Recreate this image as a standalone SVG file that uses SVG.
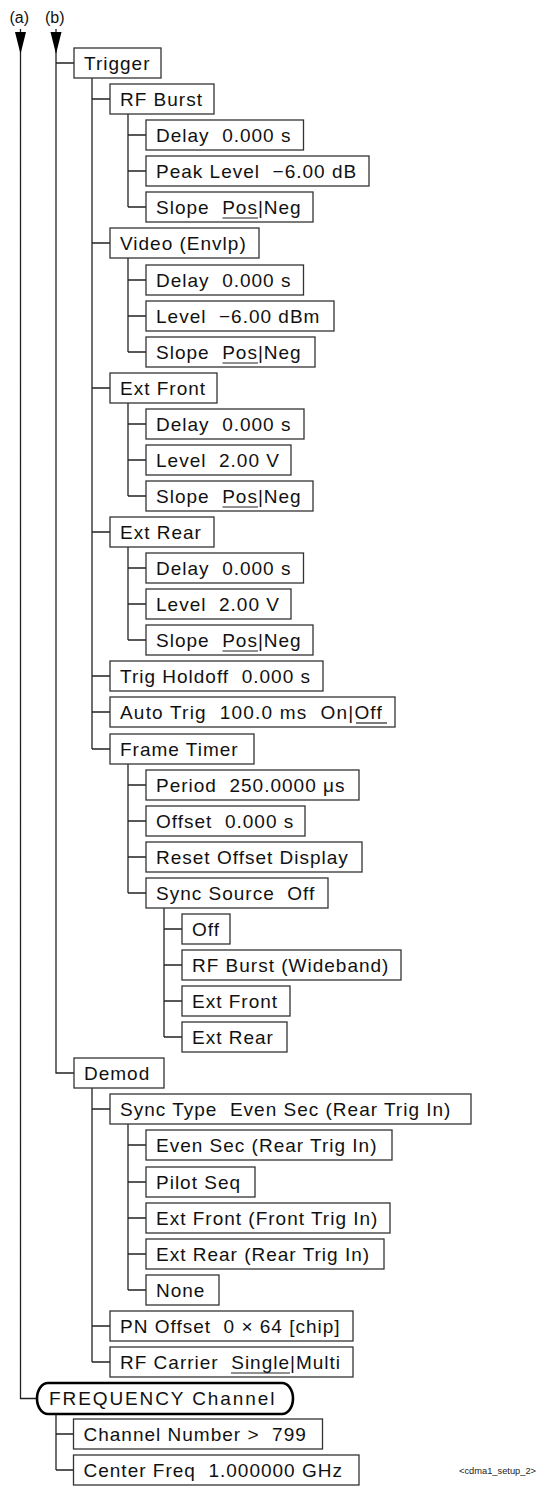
<svg xmlns="http://www.w3.org/2000/svg" width="539" height="1486" viewBox="0 0 539 1486" xml:space="preserve">
  <style>
    .box { fill: #fff; stroke: #333; stroke-width: 1.3; }
    .rnd { fill: #fff; stroke: #000; stroke-width: 2.6; }
    .t { font-family: "Liberation Sans", Arial, sans-serif; font-size: 19px; letter-spacing: 1px; fill: #111; white-space: pre; }
    .wide { letter-spacing: 1.9px; }
    .lbl { font-family: "Liberation Sans", Arial, sans-serif; font-size: 16px; fill: #111; text-anchor: middle; }
    .cap { font-family: "Liberation Sans", Arial, sans-serif; font-size: 9.3px; fill: #222; }
    .ln { fill: none; stroke: #222; stroke-width: 1.3; }
    .ul { stroke: #222; stroke-width: 1.2; }
    .head { fill: #000; }
  </style>

  <!-- column labels and entry arrows -->
  <text class="lbl" x="19.2" y="23">(a)</text>
  <text class="lbl" x="54.7" y="23">(b)</text>

  <g id="connectors">
    <path class="ln" d="M20.5 29 V1398.5 H37
      M56 29 V1073 H74 M56 63 H74
      M92 78 V749 M92 99 H110 M92 243 H110 M92 388 H110 M92 532 H110 M92 676 H110 M92 712 H110 M92 749 H110
      M128 114 V207 M128 135 H146 M128 171 H146 M128 207 H146
      M128 258 V352 M128 280 H146 M128 316 H146 M128 352 H146
      M128 403 V496 M128 424 H146 M128 460 H146 M128 496 H146
      M128 547 V640 M128 568 H146 M128 604 H146 M128 640 H146
      M128 764 V893 M128 785 H146 M128 821 H146 M128 857 H146 M128 893 H146
      M164 908 V1037 M164 929 H182 M164 965 H182 M164 1001 H182 M164 1037 H182
      M92 1088 V1362 M92 1109 H110 M92 1326 H110 M92 1362 H110
      M128 1124 V1290 M128 1145 H146 M128 1182 H146 M128 1218 H146 M128 1254 H146 M128 1290 H146
      M56 1414 V1470 M56 1434 H73.5 M56 1470 H73.5"/>
    <polygon class="head" points="15,32 26,32 20.5,54"/>
    <polygon class="head" points="50.5,32 61.5,32 56,54"/>
  </g>

  <!-- Trigger branch -->
  <g id="n-trigger" transform="translate(74,48)"><rect class="box" width="87" height="30"/><text class="t" x="10" y="21.5">Trigger</text></g>

  <g id="n-rfburst" transform="translate(110,84)"><rect class="box" width="104" height="30"/><text class="t" x="10" y="21.5">RF Burst</text></g>
  <g id="n-rfburst-delay" transform="translate(146,120)"><rect class="box" width="157.5" height="30"/><text class="t" x="10" y="21.5">Delay  0.000 s</text></g>
  <g id="n-rfburst-level" transform="translate(146,156)"><rect class="box" width="223" height="30"/><text class="t" x="10" y="21.5">Peak Level  −6.00 dB</text></g>
  <g id="n-rfburst-slope" transform="translate(146,192)"><rect class="box" width="167" height="30"/><text class="t" x="10" y="21.5">Slope  Pos|Neg</text><line class="ul" x1="76.5" y1="26" x2="112" y2="26"/></g>

  <g id="n-video" transform="translate(110,228)"><rect class="box" width="149" height="30"/><text class="t" x="10" y="21.5">Video (Envlp)</text></g>
  <g id="n-video-delay" transform="translate(146,265)"><rect class="box" width="157.5" height="30"/><text class="t" x="10" y="21.5">Delay  0.000 s</text></g>
  <g id="n-video-level" transform="translate(146,301)"><rect class="box" width="188" height="30"/><text class="t" x="10" y="21.5">Level  −6.00 dBm</text></g>
  <g id="n-video-slope" transform="translate(146,337)"><rect class="box" width="169" height="30"/><text class="t" x="10" y="21.5">Slope  Pos|Neg</text><line class="ul" x1="76.5" y1="26" x2="112" y2="26"/></g>

  <g id="n-extfront" transform="translate(110,373)"><rect class="box" width="107" height="30"/><text class="t" x="10" y="21.5">Ext Front</text></g>
  <g id="n-extfront-delay" transform="translate(146,409)"><rect class="box" width="158" height="30"/><text class="t" x="10" y="21.5">Delay  0.000 s</text></g>
  <g id="n-extfront-level" transform="translate(146,445)"><rect class="box" width="145" height="30"/><text class="t" x="10" y="21.5">Level  2.00 V</text></g>
  <g id="n-extfront-slope" transform="translate(146,481)"><rect class="box" width="167" height="30"/><text class="t" x="10" y="21.5">Slope  Pos|Neg</text><line class="ul" x1="76.5" y1="26" x2="112" y2="26"/></g>

  <g id="n-extrear" transform="translate(110,517)"><rect class="box" width="104" height="30"/><text class="t" x="10" y="21.5">Ext Rear</text></g>
  <g id="n-extrear-delay" transform="translate(146,553)"><rect class="box" width="157.5" height="30"/><text class="t" x="10" y="21.5">Delay  0.000 s</text></g>
  <g id="n-extrear-level" transform="translate(146,589)"><rect class="box" width="145" height="30"/><text class="t" x="10" y="21.5">Level  2.00 V</text></g>
  <g id="n-extrear-slope" transform="translate(146,625)"><rect class="box" width="167" height="30"/><text class="t" x="10" y="21.5">Slope  Pos|Neg</text><line class="ul" x1="76.5" y1="26" x2="112" y2="26"/></g>

  <g id="n-holdoff" transform="translate(110,661)"><rect class="box" width="213" height="30"/><text class="t" x="10" y="21.5">Trig Holdoff  0.000 s</text></g>
  <g id="n-autotrig" transform="translate(110,697)"><rect class="box" width="285" height="30"/><text class="t" x="10" y="21.5" style="letter-spacing:1.2px">Auto Trig  100.0 ms  On|Off</text><line class="ul" x1="246" y1="26" x2="277" y2="26"/></g>

  <g id="n-frametimer" transform="translate(110,734)"><rect class="box" width="144" height="30"/><text class="t" x="10" y="21.5">Frame Timer</text></g>
  <g id="n-period" transform="translate(146,770)"><rect class="box" width="213" height="30"/><text class="t" x="10" y="21.5">Period  250.0000 μs</text></g>
  <g id="n-offset" transform="translate(146,806)"><rect class="box" width="159" height="30"/><text class="t" x="10" y="21.5">Offset  0.000 s</text></g>
  <g id="n-reset" transform="translate(146,842)"><rect class="box" width="216" height="30"/><text class="t" x="10" y="21.5">Reset Offset Display</text></g>
  <g id="n-syncsource" transform="translate(146,878)"><rect class="box" width="182" height="30"/><text class="t" x="10" y="21.5">Sync Source  Off</text></g>
  <g id="n-ss-off" transform="translate(182,914)"><rect class="box" width="48" height="30"/><text class="t" x="10" y="21.5">Off</text></g>
  <g id="n-ss-rfburst" transform="translate(182,950)"><rect class="box" width="219" height="30"/><text class="t" x="10" y="21.5">RF Burst (Wideband)</text></g>
  <g id="n-ss-extfront" transform="translate(182,986)"><rect class="box" width="108" height="30"/><text class="t" x="10" y="21.5">Ext Front</text></g>
  <g id="n-ss-extrear" transform="translate(182,1022)"><rect class="box" width="105" height="30"/><text class="t" x="10" y="21.5">Ext Rear</text></g>

  <!-- Demod branch -->
  <g id="n-demod" transform="translate(74,1058)"><rect class="box" width="90" height="30"/><text class="t" x="10" y="21.5">Demod</text></g>
  <g id="n-synctype" transform="translate(110,1094)"><rect class="box" width="361" height="30"/><text class="t" x="10" y="21.5">Sync Type  Even Sec (Rear Trig In)</text></g>
  <g id="n-st-evensec" transform="translate(146,1130)"><rect class="box" width="246" height="30"/><text class="t" x="10" y="21.5">Even Sec (Rear Trig In)</text></g>
  <g id="n-st-pilot" transform="translate(146,1167)"><rect class="box" width="109" height="30"/><text class="t" x="10" y="21.5">Pilot Seq</text></g>
  <g id="n-st-extfront" transform="translate(146,1203)"><rect class="box" width="244" height="30"/><text class="t" x="10" y="21.5">Ext Front (Front Trig In)</text></g>
  <g id="n-st-extrear" transform="translate(146,1239)"><rect class="box" width="238" height="30"/><text class="t" x="10" y="21.5">Ext Rear (Rear Trig In)</text></g>
  <g id="n-st-none" transform="translate(146,1275)"><rect class="box" width="73" height="30"/><text class="t" x="10" y="21.5">None</text></g>
  <g id="n-pnoffset" transform="translate(110,1311)"><rect class="box" width="243" height="30"/><text class="t" x="10" y="21.5">PN Offset  0 × 64 [chip]</text></g>
  <g id="n-rfcarrier" transform="translate(110,1347)"><rect class="box" width="243" height="30"/><text class="t" x="10" y="21.5">RF Carrier  Single|Multi</text><line class="ul" x1="121" y1="26" x2="180" y2="26"/></g>

  <!-- FREQUENCY Channel hardkey -->
  <g id="n-freq" transform="translate(37,1383)"><rect class="rnd" width="256" height="31" rx="11" ry="15.5"/><text class="t wide" x="12" y="22">FREQUENCY Channel</text></g>
  <g id="n-channum" transform="translate(73.5,1419)"><rect class="box" width="249" height="30"/><text class="t" x="10" y="21.5">Channel Number &gt;  799</text></g>
  <g id="n-centerfreq" transform="translate(73.5,1455)"><rect class="box" width="285.5" height="30"/><text class="t" x="10" y="21.5">Center Freq  1.000000 GHz</text></g>

  <text class="cap" x="459" y="1474">&lt;cdma1_setup_2&gt;</text>
</svg>
